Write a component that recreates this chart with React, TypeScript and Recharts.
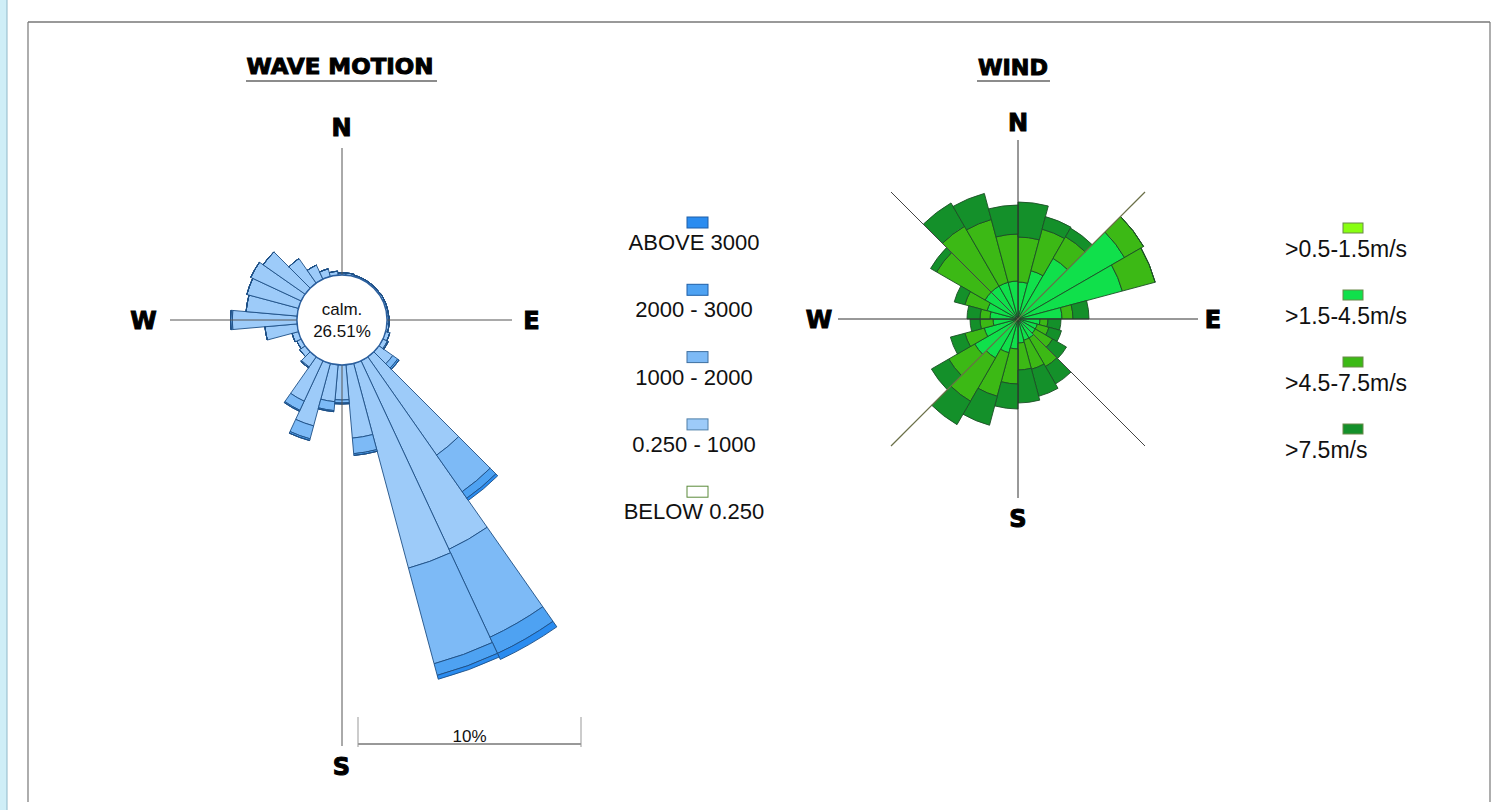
import React from 'react';
import { RadialBarChart, RadialBar, PolarAngleAxis, PolarRadiusAxis } from 'recharts';

const W = 1495;
const H = 810;

// ---- wave motion rose: 10 degree sectors, bearing clockwise from north (%) ----
const waveBearings = [0, 10, 20, 30, 40, 50, 60, 70, 80, 90, 100, 110, 120, 130, 140, 150, 160, 170,
  180, 190, 200, 210, 220, 230, 240, 250, 260, 270, 280, 290, 300, 310, 320, 330, 340, 350];
const waveLow = [0.1, 0.1, 0.06, 0.06, 0.06, 0.06, 0.08, 0.08, 0.08, 0.1, 0.1, 0.2, 0.22, 0.76, 5.38, 9.33, 9.5, 3.3,
  1.57, 1.66, 2.9, 2.0, 0.55, 0.3, 0.22, 0.3, 1.45, 2.9, 2.3, 2.4, 2.5, 2.3, 1.35, 0.7, 0.36, 0.18];
const waveMid = [0, 0, 0, 0, 0, 0, 0, 0, 0, 0, 0, 0, 0.05, 0.27, 2.0, 4.35, 4.44, 0.7,
  0.13, 0.4, 0.6, 0.45, 0.05, 0, 0, 0, 0, 0.08, 0, 0, 0, 0, 0, 0, 0, 0];
const waveHigh = [0, 0, 0, 0, 0, 0, 0, 0, 0, 0, 0, 0, 0, 0.08, 0.36, 0.8, 0.54, 0.08,
  0.05, 0.05, 0.08, 0.05, 0, 0, 0, 0, 0, 0, 0, 0, 0, 0, 0, 0, 0, 0];
const waveTop = [0, 0, 0, 0, 0, 0, 0, 0, 0, 0, 0, 0, 0, 0, 0.12, 0.3, 0.18, 0,
  0, 0, 0, 0, 0, 0, 0, 0, 0, 0, 0, 0, 0, 0, 0, 0, 0, 0];
const waveCalm = '26.51%';
const waveLegend = ['ABOVE 3000', '2000 - 3000', '1000 - 2000', '0.250 - 1000', 'BELOW 0.250'];
const waveColors = ['#2a8cf0', '#4ea2f2', '#7dbaf6', '#9dcbf9', '#ffffff'];
const waveBorders = ['#1f5fa8', '#1f5fa8', '#3f6f9f', '#4f7fa8', '#5a8a3a'];

// ---- wind rose: 15 degree sectors starting at north (%) ----
const windSectors = [0, 15, 30, 45, 60, 75, 90, 105, 120, 135, 150, 165,
  180, 195, 210, 225, 240, 255, 270, 285, 300, 315, 330, 345];
const windCalmest = [0.2, 0.2, 0.2, 0.2, 0.2, 0.2, 0.2, 0.2, 0.2, 0.2, 0.2, 0.2,
  0.2, 0.2, 0.2, 0.2, 0.2, 0.2, 0.2, 0.2, 0.2, 0.2, 0.2, 0.2];
const windLight = [3.5, 4.8, 6.8, 12.1, 10.6, 4.2, 2.0, 1.8, 1.8, 2.0, 2.0, 2.2,
  2.8, 3.3, 4.3, 4.8, 3.3, 2.3, 2.6, 3.0, 3.6, 3.6, 3.6, 3.6];
const windModerate = [4.5, 4.3, 2.5, 2.2, 3.4, 1.1, 0.8, 1.2, 2.0, 3.3, 3.0, 2.7,
  3.5, 4.5, 5.0, 3.0, 2.0, 1.3, 1.0, 2.3, 5.6, 6.9, 6.5, 4.7];
const windStrong = [3.5, 1.3, 1.0, 0, 0, 1.6, 1.3, 1.3, 1.6, 2.0, 2.8, 3.3,
  2.5, 3.0, 2.7, 2.0, 1.5, 1.0, 1.3, 1.1, 0.7, 2.7, 2.7, 2.9];
const windLegend = ['>0.5-1.5m/s', '>1.5-4.5m/s', '>4.5-7.5m/s', '>7.5m/s'];
const windColors = ['#88ff11', '#10e04b', '#3cb915', '#14902a'];

const waveData = waveBearings.map((b, i) => ({
  dir: String(b), low: waveLow[i], mid: waveMid[i], high: waveHigh[i], top: waveTop[i],
}));
const windData = windSectors.map((b, i) => ({
  dir: String(b), c0: windCalmest[i], c1: windLight[i], c2: windModerate[i], c3: windStrong[i],
}));

// layout
const WAVE_CX = 342;
const WAVE_CY = 320;
const WAVE_IN = 45;
const WAVE_PX = 22.3; // px per percent
const WAVE_MAX = 15;
const WIND_CX = 1018;
const WIND_CY = 319;
const WIND_PX = 10;
const WIND_MAX = 15;

const heavy = { fontFamily: 'DejaVu Sans', fontWeight: 'bold' as const, fill: '#000', stroke: '#000', strokeWidth: 1 };
const sans = { fontFamily: 'Liberation Sans, Arial, sans-serif', fill: '#111' };

function Compass({ cx, cy, n, s, w, e }: { cx: number; cy: number; n: number; s: number; w: number; e: number }) {
  return (
    <g>
      <text x={cx} y={cy - n} textAnchor="middle" fontSize={24} {...heavy}>N</text>
      <text x={cx} y={cy + s} textAnchor="middle" fontSize={24} {...heavy}>S</text>
      <text x={cx - w} y={cy + 9} textAnchor="middle" fontSize={24} {...heavy}>W</text>
      <text x={cx + e} y={cy + 9} textAnchor="middle" fontSize={24} {...heavy}>E</text>
    </g>
  );
}

export default function App() {
  const waveKeys = ['low', 'mid', 'high', 'top'];
  const waveFill = [waveColors[3], waveColors[2], waveColors[1], waveColors[0]];
  const windKeys = ['c0', 'c1', 'c2', 'c3'];
  const diag = 127;

  return (
    <div style={{ position: 'fixed', left: 0, top: 0, width: W, height: H, background: '#fff', overflow: 'hidden' }}>
      <div style={{ position: 'absolute', left: 0, top: 0 }}>
        {/* sectors run counter-clockwise from each band start, so start half a sector east of north */}
        <RadialBarChart
          width={W} height={H} data={waveData} cx={WAVE_CX} cy={WAVE_CY}
          innerRadius={WAVE_IN} outerRadius={WAVE_IN + WAVE_PX * WAVE_MAX}
          startAngle={85} endAngle={-275} layout="centric"
          barCategoryGap={0} barGap={0} margin={{ top: 0, right: 0, bottom: 0, left: 0 }}
        >
          <PolarAngleAxis type="category" dataKey="dir" tick={false} axisLine={false} />
          <PolarRadiusAxis type="number" domain={[0, WAVE_MAX]} allowDataOverflow tick={false} axisLine={false} />
          {waveKeys.map((k, i) => (
            <RadialBar key={k} dataKey={k} stackId="wave" fill={waveFill[i]} stroke="#1d4f86" strokeWidth={0.9} isAnimationActive={false} />
          ))}
        </RadialBarChart>
      </div>
      <div style={{ position: 'absolute', left: 0, top: 0 }}>
        <RadialBarChart
          width={W} height={H} data={windData} cx={WIND_CX} cy={WIND_CY}
          innerRadius={0} outerRadius={WIND_PX * WIND_MAX}
          startAngle={75} endAngle={-285} layout="centric"
          barCategoryGap={0} barGap={0} margin={{ top: 0, right: 0, bottom: 0, left: 0 }}
        >
          <PolarAngleAxis type="category" dataKey="dir" tick={false} axisLine={false} />
          <PolarRadiusAxis type="number" domain={[0, WIND_MAX]} allowDataOverflow tick={false} axisLine={false} />
          {windKeys.map((k, i) => (
            <RadialBar key={k} dataKey={k} stackId="wind" fill={windColors[i]} stroke="#1c4f26" strokeWidth={0.9} isAnimationActive={false} />
          ))}
        </RadialBarChart>
      </div>

      <svg width={W} height={H} style={{ position: 'absolute', left: 0, top: 0, pointerEvents: 'none' }}>
        {/* page frame */}
        <rect x={0} y={0} width={7} height={H} fill="#cfeef7" />
        <line x1={7} y1={0} x2={7} y2={H} stroke="#8fb8c8" strokeWidth={1} />
        <line x1={28} y1={22} x2={1490} y2={22} stroke="#777" strokeWidth={1.5} />
        <line x1={28} y1={22} x2={28} y2={802} stroke="#777" strokeWidth={1.2} />
        <line x1={1490} y1={22} x2={1490} y2={802} stroke="#777" strokeWidth={1.2} />

        {/* titles */}
        <text x={340} y={74} textAnchor="middle" fontSize={22} textLength={187} lengthAdjust="spacingAndGlyphs" {...heavy}>WAVE MOTION</text>
        <line x1={246} y1={81} x2={437} y2={81} stroke="#666" strokeWidth={1.5} />
        <text x={1013} y={75} textAnchor="middle" fontSize={22} textLength={70} lengthAdjust="spacingAndGlyphs" {...heavy}>WIND</text>
        <line x1={977} y1={81} x2={1050} y2={81} stroke="#666" strokeWidth={1.5} />

        {/* wave axes */}
        <line x1={WAVE_CX} y1={148} x2={WAVE_CX} y2={746} stroke="#555" strokeWidth={1} />
        <line x1={170} y1={WAVE_CY} x2={512} y2={WAVE_CY} stroke="#555" strokeWidth={1} />
        <circle cx={WAVE_CX} cy={WAVE_CY} r={WAVE_IN} fill="#fff" stroke="#2b5f9e" strokeWidth={1.3} />
        <text x={WAVE_CX} y={315} textAnchor="middle" fontSize={17} {...sans}>calm.</text>
        <text x={WAVE_CX} y={337} textAnchor="middle" fontSize={17} {...sans}>{waveCalm}</text>
        <Compass cx={341.5} cy={WAVE_CY} n={184} s={455} w={198} e={190} />

        {/* 10% scale bar */}
        <line x1={358} y1={744} x2={358 + 10 * WAVE_PX} y2={744} stroke="#333" strokeWidth={1} />
        <line x1={358} y1={717} x2={358} y2={747} stroke="#999" strokeWidth={1} />
        <line x1={358 + 10 * WAVE_PX} y1={717} x2={358 + 10 * WAVE_PX} y2={747} stroke="#999" strokeWidth={1} />
        <text x={358 + 5 * WAVE_PX} y={742} textAnchor="middle" fontSize={17} {...sans}>10%</text>

        {/* wave legend */}
        {waveLegend.map((t, i) => (
          <g key={t}>
            <rect x={687} y={217 + i * 67.3} width={21} height={11} fill={waveColors[i]} stroke={waveBorders[i]} strokeWidth={1} />
            <text x={694} y={250 + i * 67.3} textAnchor="middle" fontSize={22} {...sans}>{t}</text>
          </g>
        ))}

        {/* wind axes */}
        <line x1={WIND_CX} y1={140} x2={WIND_CX} y2={498} stroke="#333" strokeWidth={1} />
        <line x1={838} y1={WIND_CY} x2={1198} y2={WIND_CY} stroke="#333" strokeWidth={1} />
        <line x1={WIND_CX - diag} y1={WIND_CY - diag} x2={WIND_CX + diag} y2={WIND_CY + diag} stroke="#444" strokeWidth={1} />
        <line x1={WIND_CX + diag} y1={WIND_CY - diag} x2={WIND_CX - diag} y2={WIND_CY + diag} stroke="#6b7048" strokeWidth={1.2} />
        <Compass cx={1018} cy={WIND_CY} n={188} s={208} w={199} e={195} />

        {/* wind legend */}
        {windLegend.map((t, i) => (
          <g key={t}>
            <rect x={1343} y={223 + i * 67} width={20} height={10} fill={windColors[i]} stroke="#6a8a4a" strokeWidth={1} />
            <text x={1285} y={257 + i * 67} fontSize={23} {...sans}>{t}</text>
          </g>
        ))}
      </svg>
    </div>
  );
}
